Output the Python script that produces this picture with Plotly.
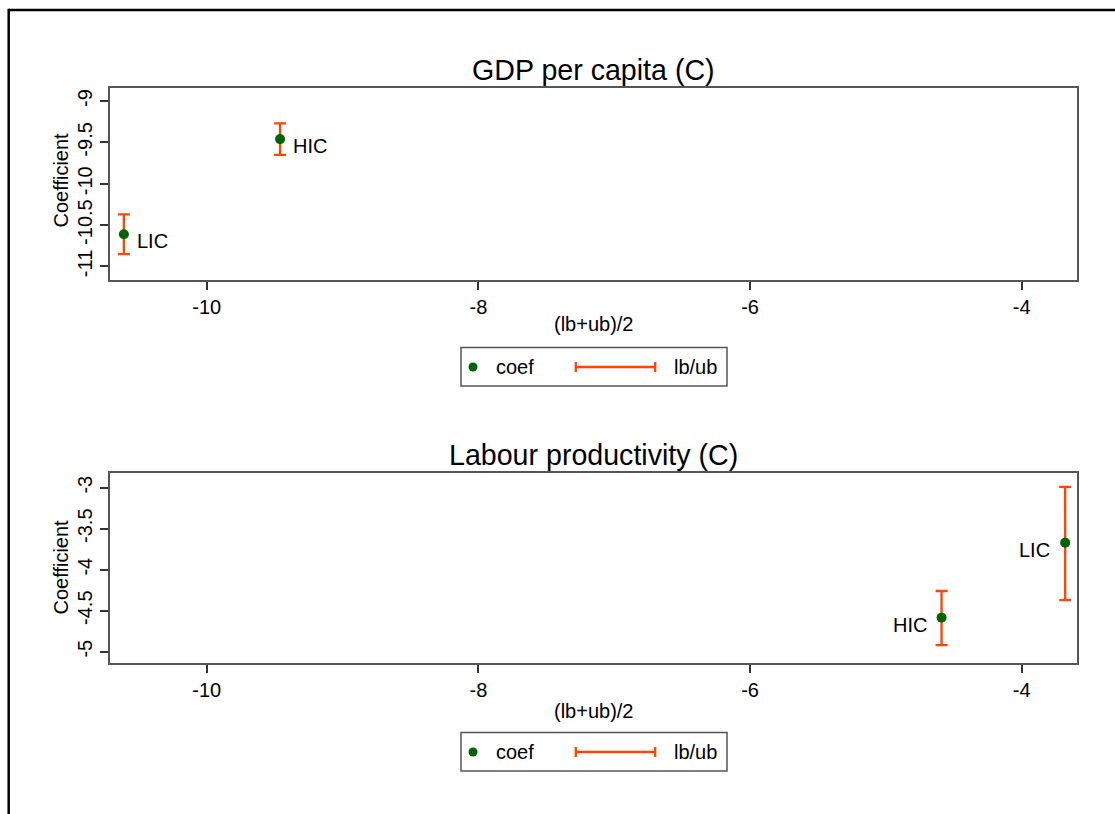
import plotly.graph_objects as go

W, H = 1115, 814

# Estimates by income group
groups = ["LIC", "HIC"]

gdp_coef = [-10.61, -9.46]
gdp_lb = [-10.85, -9.65]
gdp_ub = [-10.37, -9.27]

lab_coef = [-3.67, -4.585]
lab_lb = [-4.37, -4.92]
lab_ub = [-2.99, -4.26]

panel_titles = ["GDP per capita (C)", "Labour productivity (C)"]
x_title = "(lb+ub)/2"
y_title = "Coefficient"
legend_labels = ["coef", "lb/ub"]

x_tickvals = [-10, -8, -6, -4]
x_ticktext = ["-10", "-8", "-6", "-4"]
gdp_tickvals = [-11, -10.5, -10, -9.5, -9]
gdp_ticktext = ["-11", "-10.5", "-10", "-9.5", "-9"]
lab_tickvals = [-5, -4.5, -4, -3.5, -3]
lab_ticktext = ["-5", "-4.5", "-4", "-3.5", "-3"]

FONT = "Arial, 'Liberation Sans', sans-serif"
GREEN = "#006400"
ORANGE = "#FF4500"
FS = 20


def px(x):
    return x / W


def py(y):
    return 1 - y / H


panels = [
    dict(coef=gdp_coef, lb=gdp_lb, ub=gdp_ub, title=panel_titles[0],
         tickvals=gdp_tickvals, ticktext=gdp_ticktext,
         top=88, bottom=280, yrange=[-11.164, -8.842],
         title_y=70, xtitle_y=324, ytitle_y=180, legend_top=347.5,
         label_side="right"),
    dict(coef=lab_coef, lb=lab_lb, ub=lab_ub, title=panel_titles[1],
         tickvals=lab_tickvals, ticktext=lab_ticktext,
         top=472.7, bottom=663, yrange=[-5.138, -2.817],
         title_y=455, xtitle_y=711, ytitle_y=567, legend_top=732.5,
         label_side="left"),
]

PLOT_L, PLOT_R = 110, 1077
XRANGE = [-10.712, -3.593]

fig = go.Figure()
annotations = []
shapes = []

for i, p in enumerate(panels):
    sfx = "" if i == 0 else str(i + 1)
    xref, yref = "x" + sfx, "y" + sfx
    mid = [(l + u) / 2 for l, u in zip(p["lb"], p["ub"])]
    plus = [u - c for u, c in zip(p["ub"], p["coef"])]
    minus = [c - l for c, l in zip(p["coef"], p["lb"])]

    fig.add_trace(go.Scatter(
        x=mid, y=p["coef"], mode="markers", xaxis=xref, yaxis=yref,
        marker=dict(color=GREEN, size=10),
        error_y=dict(type="data", symmetric=False, array=plus, arrayminus=minus,
                     color=ORANGE, thickness=2.3, width=6),
        showlegend=False, hoverinfo="skip",
    ))

    for g, xv, yv in zip(groups, mid, p["coef"]):
        right = p["label_side"] == "right"
        annotations.append(dict(
            x=xv, y=yv, xref=xref, yref=yref, text=g, showarrow=False,
            xanchor="left" if right else "right", yanchor="middle",
            xshift=11 if right else -13, yshift=-7,
            font=dict(family=FONT, size=FS, color="black"),
        ))

    axis_common = dict(
        showgrid=False, zeroline=False, showline=True, mirror=True,
        linecolor="#555555", linewidth=2, ticks="outside", ticklen=8,
        tickwidth=1.5, tickcolor="#333333",
        tickfont=dict(family=FONT, size=FS, color="black"),
    )
    fig.update_layout({
        "xaxis" + sfx: dict(
            domain=[px(PLOT_L), px(PLOT_R)], range=XRANGE, anchor=yref,
            tickmode="array", tickvals=x_tickvals, ticktext=x_ticktext,
            **axis_common),
        "yaxis" + sfx: dict(
            domain=[py(p["bottom"]), py(p["top"])], range=p["yrange"],
            anchor=xref, tickmode="array", tickvals=p["tickvals"],
            ticktext=p["ticktext"], tickangle=-90, **axis_common),
    })

    # panel title and axis titles
    annotations.append(dict(
        x=px((PLOT_L + PLOT_R) / 2), y=py(p["title_y"]), xref="paper", yref="paper",
        text=p["title"], showarrow=False, xanchor="center", yanchor="middle",
        font=dict(family=FONT, size=28.6, color="black")))
    annotations.append(dict(
        x=px(594), y=py(p["xtitle_y"]), xref="paper", yref="paper",
        text=x_title, showarrow=False, xanchor="center", yanchor="middle",
        font=dict(family=FONT, size=FS, color="black")))
    annotations.append(dict(
        x=px(60.5), y=py(p["ytitle_y"]), xref="paper", yref="paper",
        text=y_title, showarrow=False, textangle=-90, xanchor="center",
        yanchor="middle", font=dict(family=FONT, size=FS, color="black")))

    # legend box
    lt = p["legend_top"]
    lc = lt + 19.5
    shapes.append(dict(type="rect", xref="paper", yref="paper",
                       x0=px(461), x1=px(727), y0=py(lt), y1=py(lt + 38.5),
                       line=dict(color="#555555", width=1.5), fillcolor="white"))
    shapes.append(dict(type="circle", xref="paper", yref="paper",
                       x0=px(473 - 4.5), x1=px(473 + 4.5),
                       y0=py(lc - 4.5), y1=py(lc + 4.5),
                       line=dict(color=GREEN, width=0), fillcolor=GREEN))
    shapes.append(dict(type="line", xref="paper", yref="paper",
                       x0=px(575), x1=px(656), y0=py(lc), y1=py(lc),
                       line=dict(color=ORANGE, width=2.3)))
    for cx in (575.8, 655.2):
        shapes.append(dict(type="line", xref="paper", yref="paper",
                           x0=px(cx), x1=px(cx), y0=py(lc - 5), y1=py(lc + 5),
                           line=dict(color=ORANGE, width=2.3)))
    annotations.append(dict(
        x=px(494), y=py(lc), xref="paper", yref="paper", text=legend_labels[0],
        showarrow=False, xanchor="left", yanchor="middle",
        font=dict(family=FONT, size=FS, color="black")))
    annotations.append(dict(
        x=px(672), y=py(lc), xref="paper", yref="paper", text=legend_labels[1],
        showarrow=False, xanchor="left", yanchor="middle",
        font=dict(family=FONT, size=FS, color="black")))

# outer graph-region frame
shapes.append(dict(type="line", xref="paper", yref="paper",
                   x0=px(8.7), x1=px(8.7), y0=py(8.7), y1=py(830),
                   line=dict(color="black", width=2.5)))
shapes.append(dict(type="line", xref="paper", yref="paper",
                   x0=px(8.7), x1=px(1130), y0=py(10), y1=py(10),
                   line=dict(color="black", width=2.5)))

fig.update_layout(
    width=W, height=H, autosize=False,
    margin=dict(l=0, r=0, t=0, b=0),
    paper_bgcolor="white", plot_bgcolor="white",
    showlegend=False,
    annotations=annotations, shapes=shapes,
    font=dict(family=FONT, color="black"),
)

fig.write_html("out.html")
